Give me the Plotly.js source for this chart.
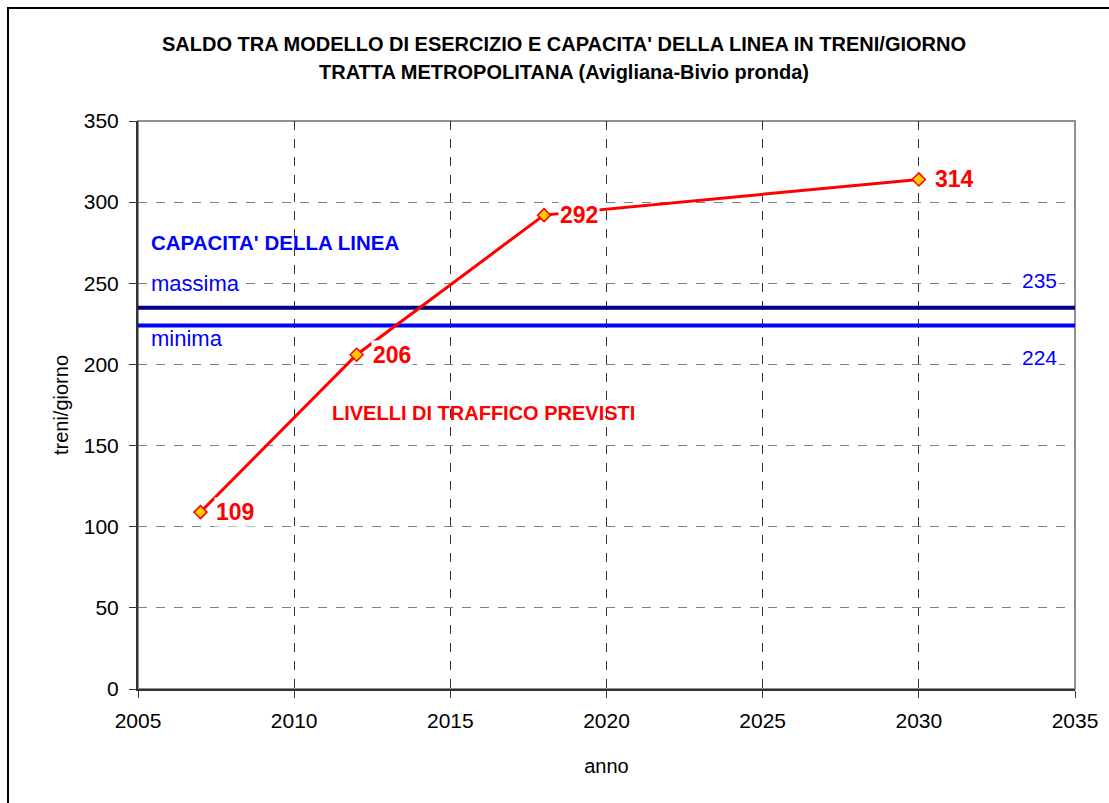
<!DOCTYPE html>
<html>
<head>
<meta charset="utf-8">
<script src="https://cdn.plot.ly/plotly-3.0.1.min.js"></script>
<style>
html,body{margin:0;padding:0;background:#fff;}
#wrap{position:relative;width:1109px;height:803px;overflow:hidden;}
#chart{width:1109px;height:803px;}
#frame{position:absolute;left:7px;top:7px;width:1200px;height:900px;border-left:2px solid #000;border-top:2px solid #000;pointer-events:none;}
</style>
</head>
<body>
<div id="wrap"><div id="chart"></div><div id="frame"></div></div>
<script>
// Data
const years = [2007, 2012, 2018, 2030];
const traffic = [109, 206, 292, 314];
const capRange = [2005, 2035];
const capMax = 235;
const capMin = 224;
const titleLines = ["SALDO TRA MODELLO DI ESERCIZIO E CAPACITA' DELLA LINEA IN TRENI/GIORNO", "TRATTA METROPOLITANA (Avigliana-Bivio pronda)"];

const FONT = "Liberation Sans, Arial, sans-serif";
const RED = "#FF0000";
const BLUE = "#0000FF";
const NAVY = "#000080";

const traces = [
  {x: capRange, y: [capMax, capMax], mode: "lines", line: {color: NAVY, width: 4}, hoverinfo: "skip", showlegend: false},
  {x: capRange, y: [capMin, capMin], mode: "lines", line: {color: BLUE, width: 4}, hoverinfo: "skip", showlegend: false},
  {x: years, y: traffic, mode: "lines+markers", line: {color: RED, width: 3},
   marker: {symbol: "diamond", size: 10, color: "#FFCC00", line: {color: RED, width: 1.5}}, showlegend: false}
];

const annotations = [];
titleLines.forEach((t, i) => annotations.push({
  xref: "paper", yref: "paper", x: 0.455, y: 1 + (77 - i * 28) / 568, xanchor: "center", yanchor: "middle",
  text: "<b>" + t + "</b>", showarrow: false, font: {family: FONT, size: 20, color: "#000"}
}));
years.forEach((yr, i) => annotations.push({
  x: yr, y: traffic[i], xref: "x", yref: "y", text: "<b>" + traffic[i] + "</b>", showarrow: false,
  xanchor: "left", yanchor: "middle", xshift: 14, bgcolor: "#fff", borderpad: 1,
  font: {family: FONT, size: 23, color: RED}
}));
annotations.push(
  {xref: "x", yref: "y", x: 2005.35, y: 275, xanchor: "left", yanchor: "middle", showarrow: false,
   text: "<b>CAPACITA' DELLA LINEA</b>", font: {family: FONT, size: 20.5, color: BLUE}},
  {xref: "x", yref: "y", x: 2005.35, y: 250, xanchor: "left", yanchor: "middle", showarrow: false, bgcolor: "#fff",
   text: "massima", font: {family: FONT, size: 22, color: BLUE}},
  {xref: "x", yref: "y", x: 2005.35, y: 216, xanchor: "left", yanchor: "middle", showarrow: false,
   text: "minima", font: {family: FONT, size: 22, color: BLUE}},
  {xref: "x", yref: "y", x: 2034.5, y: capMax + 17, xanchor: "right", yanchor: "middle", showarrow: false, bgcolor: "#fff",
   text: String(capMax), font: {family: FONT, size: 21, color: BLUE}},
  {xref: "x", yref: "y", x: 2034.5, y: capMin - 20, xanchor: "right", yanchor: "middle", showarrow: false, bgcolor: "#fff",
   text: String(capMin), font: {family: FONT, size: 21, color: BLUE}},
  {xref: "x", yref: "y", x: 2011.15, y: 170, xanchor: "left", yanchor: "middle", showarrow: false,
   text: "<b>LIVELLI DI TRAFFICO PREVISTI</b>", font: {family: FONT, size: 20, color: RED}}
);

const layout = {
  width: 1109, height: 803,
  margin: {l: 138, r: 34, t: 121, b: 114},
  paper_bgcolor: "#fff", plot_bgcolor: "#fff",
  font: {family: FONT, size: 21, color: "#000"},
  xaxis: {
    range: [2005, 2035], dtick: 5, tick0: 2005, showgrid: true, gridcolor: "#333", griddash: "dash", gridwidth: 1,
    showline: true, linecolor: "#333", linewidth: 2, ticks: "outside", ticklen: 7, tickcolor: "#333",
    zeroline: false, tickfont: {family: FONT, size: 21}, ticklabelstandoff: 5,
    title: {text: "anno", font: {family: FONT, size: 20}, standoff: 28}
  },
  yaxis: {
    range: [0, 350], dtick: 50, showgrid: true, gridcolor: "#808080", griddash: "dash", gridwidth: 1,
    showline: true, linecolor: "#333", linewidth: 2, ticks: "outside", ticklen: 7, tickcolor: "#333",
    zeroline: false, tickfont: {family: FONT, size: 21}, ticklabelstandoff: 6,
    title: {text: "treni/giorno", font: {family: FONT, size: 20}, standoff: 10}
  },
  shapes: [
    {type: "rect", xref: "paper", yref: "paper", x0: 0, x1: 1, y0: 0, y1: 1, line: {color: "#909090", width: 2}, layer: "below"}
  ],
  annotations: annotations
};

Plotly.newPlot("chart", traces, layout, {displayModeBar: false, staticPlot: true});
</script>
</body>
</html>
